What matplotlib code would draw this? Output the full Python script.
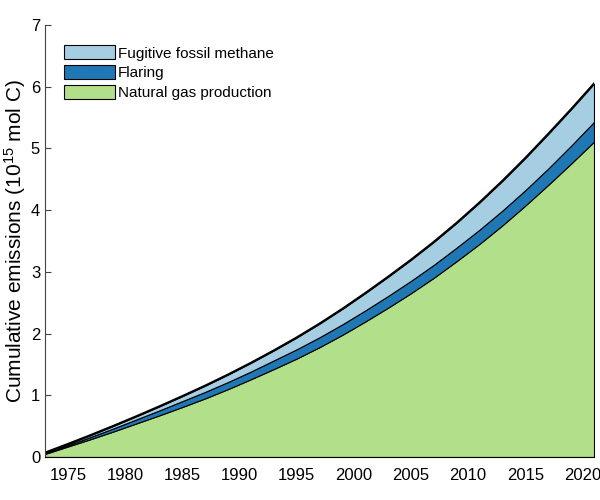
import numpy as np
from matplotlib import pyplot as plt

plt.rcParams['font.family'] = ['Liberation Sans', 'DejaVu Sans']
plt.rcParams['mathtext.fontset'] = 'custom'
plt.rcParams['mathtext.rm'] = 'Liberation Sans'
plt.rcParams['mathtext.it'] = 'Liberation Sans:italic'

# cumulative emissions, 10^15 mol C
years = [1973, 1975, 1977, 1979, 1981, 1983, 1985, 1987, 1989, 1991, 1993,
         1995, 1997, 1999, 2001, 2003, 2005, 2007, 2009, 2011, 2013, 2015,
         2017, 2019, 2021]
gas_production = [0.05, 0.17, 0.29, 0.415, 0.545, 0.675, 0.81, 0.95, 1.10,
                  1.26, 1.425, 1.595, 1.78, 1.98, 2.195, 2.42, 2.655, 2.905,
                  3.175, 3.455, 3.755, 4.075, 4.41, 4.755, 5.11]
flaring = [0.01, 0.02, 0.035, 0.05, 0.065, 0.08, 0.095, 0.105, 0.115, 0.125,
           0.14, 0.15, 0.16, 0.17, 0.18, 0.19, 0.20, 0.21, 0.22, 0.23, 0.24,
           0.25, 0.265, 0.29, 0.32]
fugitive = [0.01, 0.02, 0.03, 0.04, 0.05, 0.065, 0.08, 0.10, 0.12, 0.14, 0.16,
            0.19, 0.22, 0.25, 0.28, 0.31, 0.34, 0.37, 0.40, 0.44, 0.48, 0.52,
            0.56, 0.59, 0.62]

labels = ["Natural gas production", "Flaring", "Fugitive fossil methane"]
colors = ["#b2df8a", "#1f78b4", "#a6cee3"]
xticks = [1975, 1980, 1985, 1990, 1995, 2000, 2005, 2010, 2015, 2020]

if __name__ == '__main__':
    fig = plt.figure(figsize=(6, 5), dpi=100)
    ax = fig.add_axes([0.075, 0.086, 0.915, 0.864])

    polys = ax.stackplot(years, gas_production, flaring, fugitive,
                         colors=colors, labels=labels,
                         edgecolor="k", linewidth=0.8)
    total = np.array(gas_production) + np.array(flaring) + np.array(fugitive)
    ax.plot(years, total, color="k", lw=1.6)

    ax.set_xlim(1973, 2021)
    ax.set_ylim(0, 7)
    ax.set_xticks(xticks)
    ax.set_yticks(range(0, 8))
    ax.tick_params(axis="x", length=0, labelsize=12, pad=8)
    ax.tick_params(axis="y", direction="in", length=4, labelsize=12,
                   color="#444444")
    for side in ["top", "right"]:
        ax.spines[side].set_visible(False)
    ax.spines["left"].set_color("#444444")
    ax.spines["bottom"].set_color("k")

    ax.set_ylabel("Cumulative emissions (10$^{15}$ mol C)", fontsize=15,
                  labelpad=2)

    handles = polys[::-1]
    ax.legend(handles, labels[::-1], loc="upper left", frameon=False,
              fontsize=11, handlelength=3.3, handleheight=1.05,
              labelspacing=0.3, handletextpad=0.2,
              bbox_to_anchor=(0.01, 0.985))

    fig.savefig("out.png", dpi=100)
